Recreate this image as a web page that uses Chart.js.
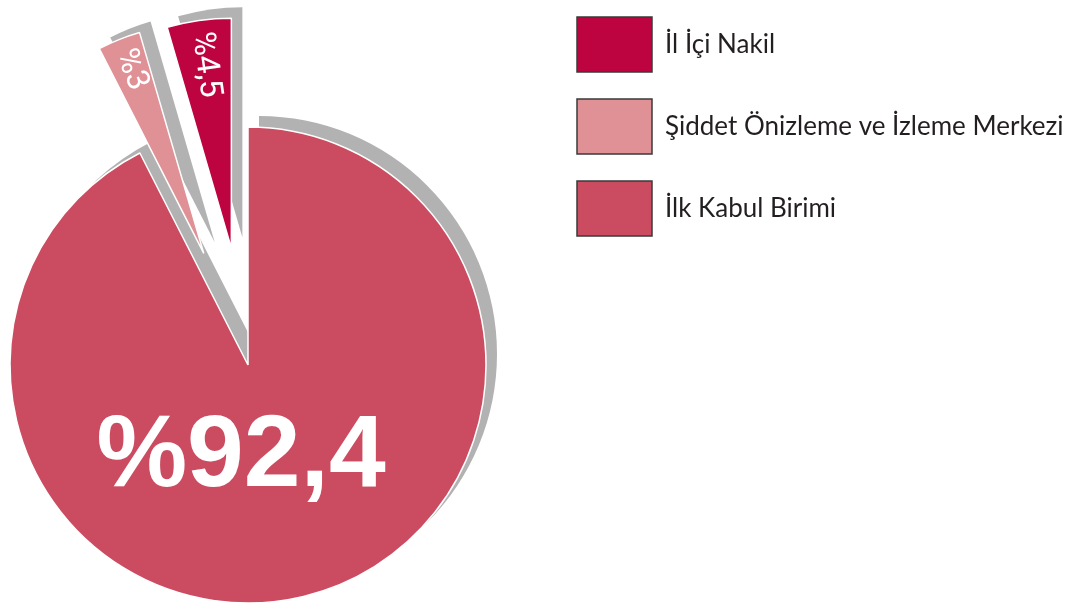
<!DOCTYPE html>
<html lang="tr">
<head>
<meta charset="utf-8">
<script src="https://cdn.jsdelivr.net/npm/chart.js@4.4.1/dist/chart.umd.min.js"></script>
<style>
    html, body { margin: 0; padding: 0; background: #fff; overflow: hidden; width: 1087px; height: 604px; }
    /* canvas is a bit bigger than the page so the pie sits left of centre of its chart area */
    #wrap { position: absolute; left: -54px; top: -10px; width: 1141px; height: 750px; }
</style>
</head>
<body>
<div id="wrap"><canvas id="myChart"></canvas></div>
<script>
// data, clockwise from 12 o'clock
var categories = ['İlk Kabul Birimi', 'Şiddet Önizleme ve İzleme Merkezi', 'İl İçi Nakil'];
var shares = [92.4, 3, 4.5];
var valueLabels = ['%92,4', '%3', '%4,5'];

var legendFont = { family: 'Lato', size: 26 };
var smallRadius = 230;

// legend width depends on the text, so work out the right padding that keeps the boxes in place
var mctx = document.createElement('canvas').getContext('2d');
mctx.font = legendFont.size + 'px ' + legendFont.family;
var longest = Math.max.apply(null, categories.map(function (t) { return mctx.measureText(t).width; }));
var padRight = 1141 - 604 - (27 + 75 + legendFont.size / 2 + longest + 10);

var sliceShadow = {
    id: 'sliceShadow',
    afterDatasetUpdate: function (chart, args) {
        // pull the small slices out from the centre (chart.js offset also shrinks them, so do it here)
        var explode = chart.data.datasets[args.index].explode || [];
        args.meta.data.forEach(function (arc, i) {
            var d = explode[i];
            if (!d) return;
            var mid = (arc.startAngle + arc.endAngle) / 2;
            arc.x += Math.cos(mid) * d;
            arc.y += Math.sin(mid) * d;
            arc.outerRadius = smallRadius;
        });
    },
    beforeDatasetsDraw: function (chart) {
        var ctx = chart.ctx;
        ctx.save();
        ctx.fillStyle = '#B2B2B2';
        chart.getDatasetMeta(0).data.forEach(function (arc) {
            var x = arc.x + 11, y = arc.y - 11;
            ctx.beginPath();
            ctx.moveTo(x, y);
            ctx.arc(x, y, arc.outerRadius, arc.startAngle, arc.endAngle);
            ctx.closePath();
            ctx.fill();
        });
        ctx.restore();
    }
};

var sliceLabels = {
    id: 'sliceLabels',
    afterDatasetsDraw: function (chart) {
        var ctx = chart.ctx;
        var explode = chart.data.datasets[0].explode;
        chart.getDatasetMeta(0).data.forEach(function (arc, i) {
            var mid = (arc.startAngle + arc.endAngle) / 2;
            ctx.save();
            ctx.fillStyle = '#ffffff';
            if (!explode[i]) {
                ctx.font = 'bold 102px "Liberation Sans", Arial, sans-serif';
                ctx.textAlign = 'center';
                ctx.textBaseline = 'alphabetic';
                ctx.fillText(valueLabels[i], arc.x - 7, arc.y + 121);
            } else {
                ctx.translate(arc.x + Math.cos(mid) * 218, arc.y + Math.sin(mid) * 218);
                ctx.rotate(mid + Math.PI);
                ctx.font = '32px Roboto, sans-serif';
                ctx.textAlign = 'left';
                ctx.textBaseline = 'middle';
                ctx.fillText(valueLabels[i], 0, 0);
            }
            ctx.restore();
        });
    }
};

var ctx = document.getElementById('myChart').getContext('2d');
var myChart = new Chart(ctx, {
    type: 'pie',
    data: {
        labels: categories,
        datasets: [{
            data: shares,
            backgroundColor: ['#CB4C60', '#DF9196', '#BE0440'],
            borderColor: '#ffffff',
            borderWidth: 1.5,
            explode: [0, 120, 118],
            radius: 238
        }]
    },
    options: {
        responsive: true,
        maintainAspectRatio: false,
        animation: false,
        events: [],
        radius: 238,
        layout: {
            padding: { left: 0, top: 0, bottom: 0, right: padRight }
        },
        plugins: {
            tooltip: { enabled: false },
            legend: {
                position: 'right',
                align: 'start',
                reverse: true,
                labels: {
                    boxWidth: 75,
                    boxHeight: 55,
                    padding: 27,
                    color: '#231F20',
                    font: legendFont,
                    generateLabels: function (chart) {
                        var items = Chart.overrides.pie.plugins.legend.labels.generateLabels(chart);
                        items.forEach(function (item) {
                            item.strokeStyle = '#3a3a3a';
                            item.lineWidth = 1.5;
                        });
                        return items;
                    }
                }
            }
        }
    },
    plugins: [sliceShadow, sliceLabels]
});
</script>
</body>
</html>
